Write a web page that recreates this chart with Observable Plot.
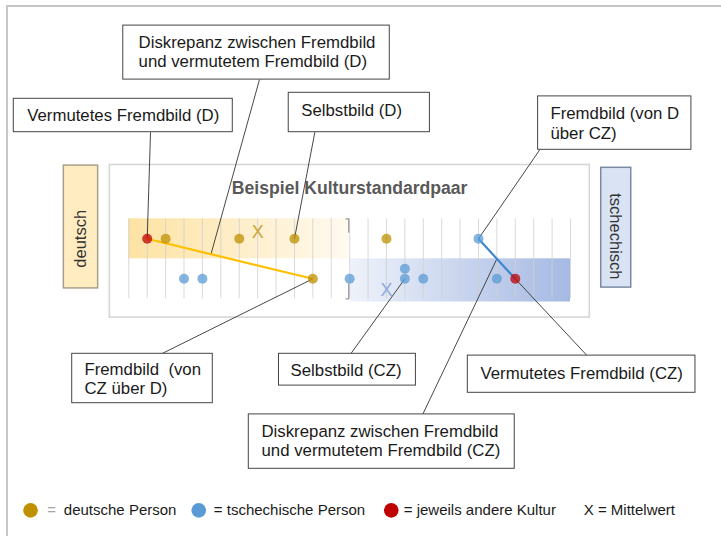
<!DOCTYPE html>
<html><head><meta charset="utf-8">
<script src="https://cdn.jsdelivr.net/npm/d3@7"></script>
<script src="https://cdn.jsdelivr.net/npm/@observablehq/plot@0.6"></script>
<style>
html,body{margin:0;padding:0;background:#fff;}
#wrap{position:relative;width:721px;height:536px;overflow:hidden;background:#fff;}
#frame{position:absolute;left:6px;top:5px;width:730px;height:560px;border-left:2px solid #c6c6c6;border-top:2px solid #c6c6c6;}
#chart{position:absolute;left:0;top:0;}
</style></head><body>
<div id="wrap"><div id="frame"></div><div id="chart"></div></div>
<script>
const FONT = "'Liberation Sans', Arial, sans-serif";

// ---- data ----
const scaleTicks = d3.range(0, 25);          // 25 scale positions
const midTick = 12;
const rowValue = {D: 1, CZ: 0};              // D = upper row, CZ = lower row

const personPos   = [1, 2, 6, 9, 14, 19, 3, 4, 10, 12, 15, 15, 16, 20, 21];
const personRow   = ["D","D","D","D","D","D","CZ","CZ","CZ","CZ","CZ","CZ","CZ","CZ","CZ"];
const personKind  = ["andere","deutsch","deutsch","deutsch","deutsch","tschechisch",
                     "tschechisch","tschechisch","deutsch","tschechisch","tschechisch","tschechisch","tschechisch","tschechisch","andere"];
const personStack = [0,0,0,0,0,0,0,0,0,0,0,1,0,0,0];

const meanPos  = [7, 14];
const meanRow  = ["D", "CZ"];
const meanKind = ["deutsch", "tschechisch"];

const linkFrom    = [1, 19];
const linkFromRow = ["D", "D"];
const linkTo      = [10, 21];
const linkToRow   = ["CZ", "CZ"];
const linkKind    = ["deutsch", "tschechisch"];

const sideLabels = ["deutsch", "tschechisch"];
const titleText = "Beispiel Kulturstandardpaar";

const legendKinds  = ["deutsch", "tschechisch", "andere"];
const legendLabels = ["deutsche Person", "= tschechische Person", "= jeweils andere Kultur"];
const meanLegend = "X = Mittelwert";

const calloutTexts = [
  ["Diskrepanz zwischen Fremdbild", "und vermutetem Fremdbild (D)"],
  ["Vermutetes Fremdbild (D)"],
  ["Selbstbild (D)"],
  ["Fremdbild (von D", "über CZ)"],
  ["Fremdbild\u00a0 (von", "CZ über D)"],
  ["Selbstbild (CZ)"],
  ["Vermutetes Fremdbild (CZ)"],
  ["Diskrepanz zwischen Fremdbild", "und vermutetem Fremdbild (CZ)"]
];

// ---- styles / layout ----
const kindColor = {deutsch: "#bf9000", tschechisch: "#5b9bd5", andere: "#c00000"};
const meanColor = {deutsch: "#c9a43a", tschechisch: "#8eaadb"};
const meanOffset = {D: 0.175, CZ: -0.275};
const linkColor = {deutsch: "#ffc000", tschechisch: "#3f87cc"};

// callout layout in scale units (x: scale position, y: row units)
const calloutLayout = [
  {x1:-0.30, x2:14.18, y1:4.98, y2:6.33, tx:0.53, ty:[5.915, 5.43], lx:7.10, ly:4.98, link:0, t:0.385},
  {x1:-6.25, x2:5.65, y1:3.665, y2:4.50, tx:-5.52, ty:[4.08], lx:1.18, ly:3.665, pos:1, row:"D"},
  {x1:8.69, x2:16.36, y1:3.665, y2:4.65, tx:9.37, ty:[4.21], lx:10.11, ly:3.665, pos:9, row:"D"},
  {x1:22.24, x2:30.57, y1:3.225, y2:4.56, tx:22.91, ty:[4.125, 3.625], lx:22.33, ly:3.225, pos:19, row:"D"},
  {x1:-3.075, x2:4.564, y1:-3.11, y2:-1.875, tx:-2.41, ty:[-2.28, -2.755], lx:1.78, ly:-1.875, pos:10, row:"CZ"},
  {x1:8.16, x2:15.60, y1:-2.67, y2:-1.875, tx:8.79, ty:[-2.29], lx:12.06, ly:-1.875, pos:15, row:"CZ"},
  {x1:18.42, x2:30.79, y1:-2.85, y2:-1.92, tx:19.11, ty:[-2.375], lx:24.9, ly:-1.92, pos:21, row:"CZ"},
  {x1:6.52, x2:20.97, y1:-4.75, y2:-3.39, tx:7.21, ty:[-3.8175, -4.30], lx:15.97, ly:-3.39, link:1, t:0.5}
];

// ---- derived ----
const persons = personPos.map((pos, i) => ({pos, row: personRow[i], kind: personKind[i], stack: personStack[i]}));
const py = d => rowValue[d.row] + 0.25 * d.stack;
const means = meanPos.map((pos, i) => ({pos, row: meanRow[i], kind: meanKind[i]}));
const links = linkFrom.map((f, i) => ({x1: f, y1: rowValue[linkFromRow[i]], x2: linkTo[i], y2: rowValue[linkToRow[i]], kind: linkKind[i]}));

function targetOf(c) {
  if (c.link != null) {
    const l = links[c.link];
    return [l.x1 + (l.x2 - l.x1) * c.t, l.y1 + (l.y2 - l.y1) * c.t];
  }
  const p = persons.find(p => p.pos === c.pos && p.row === c.row && p.stack === 0);
  return [p.pos, py(p)];
}
const callouts = calloutLayout.map((c, i) => {
  const [ax, ay] = targetOf(c);
  return {...c, ax, ay, lines: calloutTexts[i]};
});
const calloutLines = callouts.flatMap(c => c.lines.map((t, j) => ({text: t, x: c.tx, y: c.ty[j]})));

const first = scaleTicks[0], last = scaleTicks[scaleTicks.length - 1];
const bands = [
  {x1: first, x2: midTick - 0.05, y1: 0.5, y2: 1.5, fill: "url(#gy)"},
  {x1: midTick + 0.05, x2: last, y1: -0.58, y2: 0.5, fill: "url(#gb)"}
];
const chartFrame = [{x1: first - 1.03, x2: last + 1.05, y1: -0.97, y2: 2.845}];
const sideBoxes = [
  {x1: -3.53, x2: -1.665, y1: -0.24, y2: 2.83, fill: "#ffecc0", stroke: "#a89f88", label: sideLabels[0], tx: -2.6, ty: 1.0, rot: -90},
  {x1: 25.67, x2: 27.30, y1: -0.22, y2: 2.775, fill: "#dae3f3", stroke: "#7b8aa3", label: sideLabels[1], tx: 26.46, ty: 1.06, rot: 90}
];
const bracketTop = [{x: midTick - 0.2, y: 1.5}, {x: midTick - 0.05, y: 1.5}, {x: midTick - 0.05, y: 1.165}];
const bracketBot = [{x: midTick - 0.05, y: -0.125}, {x: midTick - 0.05, y: -0.5}, {x: midTick - 0.2, y: -0.5}];

const legendY = -5.79;
const legendDots = legendKinds.map((k, i) => ({kind: k, x: [-5.34, 3.80, 14.26][i]}));
const legendText = [
  {text: "=", x: -4.43, fill: "#a6a6a6"},
  {text: legendLabels[0], x: -3.53, fill: "#1a1a1a"},
  {text: legendLabels[1], x: 4.62, fill: "#1a1a1a"},
  {text: legendLabels[2], x: 14.94, fill: "#1a1a1a"},
  {text: meanLegend, x: 24.72, fill: "#1a1a1a"}
];

const svg = Plot.plot({
  width: 721, height: 536,
  marginTop: 0, marginRight: 0, marginBottom: 0, marginLeft: 0,
  x: {domain: [first, last], range: [128.3, 570], axis: null},
  y: {domain: [0, 1], range: [278.3, 238.3], axis: null},
  color: {type: "identity"},
  style: {fontFamily: FONT, background: "transparent", overflow: "visible"},
  marks: [
    Plot.rect(chartFrame, {x1: "x1", x2: "x2", y1: "y1", y2: "y2", fill: "#ffffff", stroke: "#d6d6d6", strokeWidth: 1.6}),
    Plot.rect(bands, {x1: "x1", x2: "x2", y1: "y1", y2: "y2", fill: "fill"}),
    Plot.ruleX(scaleTicks, {x: d => d, y1: -0.5, y2: 1.5, stroke: "#cfcfcf", strokeWidth: 1, strokeOpacity: 0.8}),
    Plot.line(bracketTop, {x: "x", y: "y", stroke: "#9a9a9a", strokeWidth: 1.3}),
    Plot.line(bracketBot, {x: "x", y: "y", stroke: "#9a9a9a", strokeWidth: 1.3}),
    Plot.text([titleText], {x: midTick, y: 2.2575, text: d => d, fontSize: 17.6, fontWeight: "bold", fill: "#595959", lineAnchor: "middle"}),
    // side labels
    Plot.rect(sideBoxes, {x1: "x1", x2: "x2", y1: "y1", y2: "y2", fill: "fill", stroke: "stroke", strokeWidth: 1.5}),
    Plot.text(sideBoxes, {x: "tx", y: "ty", text: "label", rotate: "rot", fontSize: 16.5, fill: "#333333", lineAnchor: "middle"}),
    // leader lines
    Plot.link(callouts, {x1: "lx", y1: "ly", x2: "ax", y2: "ay", stroke: "#333333", strokeWidth: 0.9}),
    // connecting lines
    Plot.link(links, {x1: "x1", y1: "y1", x2: "x2", y2: "y2", stroke: d => linkColor[d.kind], strokeWidth: 2.2}),
    // persons
    Plot.dot(persons, {x: "pos", y: py, r: 5, fill: d => kindColor[d.kind], fillOpacity: 0.75, stroke: "none"}),
    // means
    Plot.text(means, {x: "pos", y: d => rowValue[d.row] + meanOffset[d.row], text: () => "X", fontSize: 18, fill: d => meanColor[d.kind], lineAnchor: "middle"}),
    // callout boxes
    Plot.rect(callouts, {x1: "x1", x2: "x2", y1: "y1", y2: "y2", fill: "#ffffff", stroke: "#444444", strokeWidth: 1}),
    Plot.text(calloutLines, {x: "x", y: "y", text: "text", textAnchor: "start", lineAnchor: "middle", fontSize: 16.8, fill: "#1a1a1a"}),
    // legend
    Plot.dot(legendDots, {x: "x", y: legendY, r: 7.3, fill: d => kindColor[d.kind], stroke: "none"}),
    Plot.text(legendText, {x: "x", y: legendY, text: "text", fill: "fill", textAnchor: "start", lineAnchor: "middle", fontSize: 15})
  ]
});

const defs = d3.select(svg).insert("defs", ":first-child");
const gy = defs.append("linearGradient").attr("id", "gy").attr("x1", "0").attr("x2", "1").attr("y1", "0").attr("y2", "0");
gy.append("stop").attr("offset", "0").attr("stop-color", "#fde2a2");
gy.append("stop").attr("offset", "1").attr("stop-color", "#fffaf0");
const gb = defs.append("linearGradient").attr("id", "gb").attr("x1", "0").attr("x2", "1").attr("y1", "0").attr("y2", "0");
gb.append("stop").attr("offset", "0").attr("stop-color", "#eef2fa");
gb.append("stop").attr("offset", "1").attr("stop-color", "#a5b9e3");

document.getElementById("chart").appendChild(svg);
</script>
</body></html>
